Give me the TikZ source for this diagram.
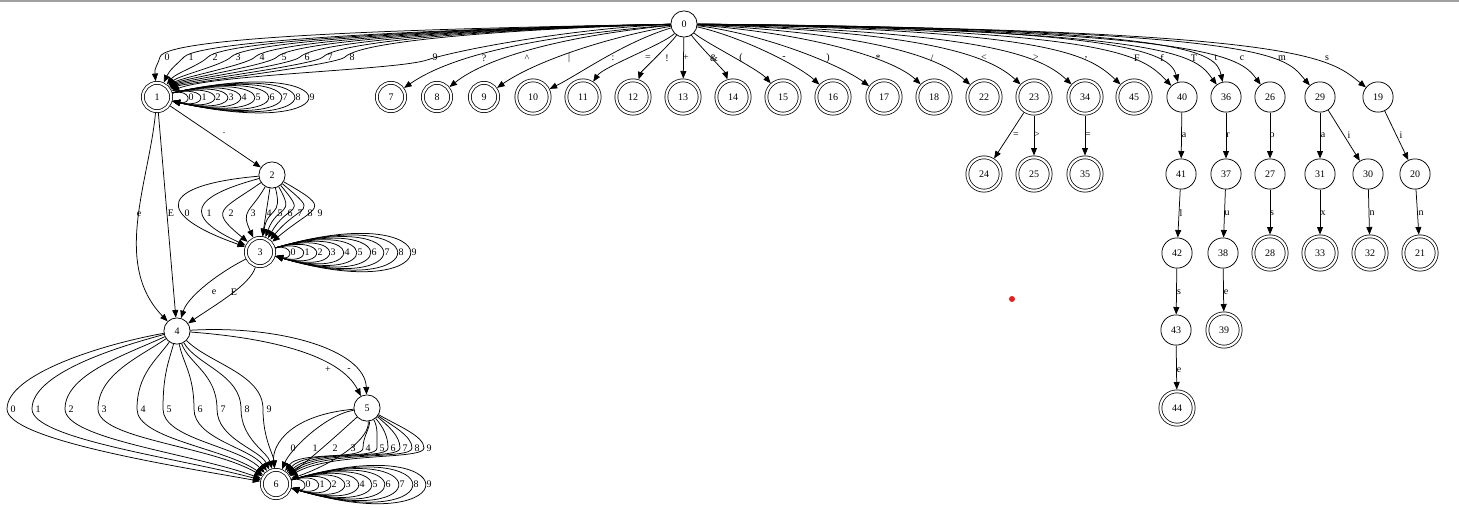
\documentclass[tikz,border=0pt]{standalone}
\usepackage{fontspec}
\setmainfont{Liberation Serif}
\usetikzlibrary{arrows.meta}
\definecolor{topline}{RGB}{160,160,160}
\definecolor{reddot}{RGB}{228,32,32}
\newcommand\nfsize{\fontsize{10}{11}\selectfont}
\tikzset{
  st/.style={circle, draw, line width=0.75pt, inner sep=0pt, font=\nfsize},
  sa/.style={st, minimum size=26.25pt},
  sb/.style={st, minimum size=30.25pt},
  da/.style={st, double, double distance=2.2pt, minimum size=28.3pt, outer sep=1.85pt},
  db/.style={st, double, double distance=2.2pt, minimum size=33.3pt, outer sep=1.85pt},
  edge/.style={draw, line width=0.75pt, -{Triangle[length=7.5pt,width=6pt]}},
  lbl/.style={inner sep=0pt, font=\nfsize},
}
\begin{document}
\begin{tikzpicture}[x=1pt,y=-1pt]
\useasboundingbox (0,0) rectangle (1459,507);
\fill[topline] (0,0) rectangle (1459,1.6);
\fill[reddot] (1012,299) circle (3);

% nodes
\node[sa] (n0) at (684,24) {0};
\node[da] (n1) at (157,97) {1};
\node[da] (n7) at (391,97) {7};
\node[da] (n8) at (437,97) {8};
\node[da] (n9) at (484,97) {9};
\node[db] (n10) at (533,97) {10};
\node[db] (n11) at (583,97) {11};
\node[db] (n12) at (633,97) {12};
\node[db] (n13) at (683,97) {13};
\node[db] (n14) at (733,97) {14};
\node[db] (n15) at (783,97) {15};
\node[db] (n16) at (833,97) {16};
\node[db] (n17) at (884,97) {17};
\node[db] (n18) at (934,97) {18};
\node[db] (n22) at (984,97) {22};
\node[db] (n23) at (1034,97) {23};
\node[db] (n34) at (1085,97) {34};
\node[db] (n45) at (1134,97) {45};
\node[sb] (n40) at (1182,97) {40};
\node[sb] (n36) at (1226,97) {36};
\node[sb] (n26) at (1270,97) {26};
\node[sb] (n29) at (1320,97) {29};
\node[sb] (n19) at (1378,97) {19};
\node[db] (n24) at (984,174) {24};
\node[db] (n25) at (1034,174) {25};
\node[db] (n35) at (1085,174) {35};
\node[sb] (n41) at (1181,174) {41};
\node[sb] (n37) at (1226,174) {37};
\node[sb] (n27) at (1270,174) {27};
\node[sb] (n31) at (1320,174) {31};
\node[sb] (n30) at (1368,174) {30};
\node[sb] (n20) at (1415,174) {20};
\node[sb] (n42) at (1177,253) {42};
\node[sb] (n38) at (1223,253) {38};
\node[db] (n28) at (1270,253) {28};
\node[db] (n33) at (1320,253) {33};
\node[db] (n32) at (1370,253) {32};
\node[db] (n21) at (1420,253) {21};
\node[sb] (n43) at (1176,330) {43};
\node[db] (n39) at (1224,330) {39};
\node[db] (n44) at (1177,408) {44};
\node[sa] (n2) at (272,175) {2};
\node[da] (n3) at (260,252) {3};
\node[sa] (n4) at (177,331) {4};
\node[sa] (n5) at (367,408) {5};
\node[da] (n6) at (276,484) {6};

% 0 -> 1
\draw[edge] (n0) .. controls +(-230,4) and +(6,-22) .. (160,57) .. controls +(-3,10) and +(-2.6,-29.9) .. (n1);
\draw[edge] (n0) .. controls +(-219,4) and +(18,-18) .. (184,57) .. controls +(-8,8) and +(12.7,-27.2) .. (n1);
\draw[edge] (n0) .. controls +(-208,4) and +(18,-18) .. (208,57) .. controls +(-8,8) and +(18.5,-23.6) .. (n1);
\draw[edge] (n0) .. controls +(-198,4) and +(18,-18) .. (231,57) .. controls +(-8,8) and +(21.2,-21.2) .. (n1);
\draw[edge] (n0) .. controls +(-187,4) and +(18,-18) .. (255,57) .. controls +(-8,8) and +(23,-19.3) .. (n1);
\draw[edge] (n0) .. controls +(-177,4) and +(18,-18) .. (277,57) .. controls +(-8,8) and +(24,-18) .. (n1);
\draw[edge] (n0) .. controls +(-166,4) and +(18,-18) .. (300,57) .. controls +(-8,8) and +(24.9,-16.8) .. (n1);
\draw[edge] (n0) .. controls +(-156,4) and +(18,-18) .. (323,57) .. controls +(-8,8) and +(25.7,-15.5) .. (n1);
\draw[edge] (n0) .. controls +(-146,4) and +(18,-18) .. (345,57) .. controls +(-8,8) and +(26.5,-14.1) .. (n1);
\draw[edge] (n0) .. controls +(-110,4) and +(30,-10) .. (427,60) .. controls +(-30,10) and +(55.6,-22.5) .. (n1);
\foreach \x [count=\i from 0] in {167,191,215,238,262,284,307,330,352,435}
  \node[lbl] (a\i) at (\x,57) {\i};

% 0 -> first row
\draw[edge] (n0) .. controls +(-143,12) and +(62,-43) .. (n7);
\draw[edge] (n0) .. controls +(-120,12) and +(50,-40) .. (n8);
\draw[edge] (n0) .. controls +(-80,14) and +(50,-35) .. (n9);
\draw[edge] (n0) .. controls +(-60,18) and +(45,-22) .. (n10);
\draw[edge] (n0) .. controls +(-20,20) and +(20,-30) .. (n11);
\draw[edge] (n0) .. controls +(-12,18) and +(8,-25) .. (n12);
\draw[edge] (n0) -- (n13);
\draw[edge] (n0) .. controls +(12,18) and +(-8,-25) .. (n14);
\draw[edge] (n0) .. controls +(20,18) and +(-25,-28) .. (n15);
\draw[edge] (n0) .. controls +(55,12) and +(-35,-32) .. (n16);
\draw[edge] (n0) .. controls +(80,10) and +(-45,-33) .. (n17);
\draw[edge] (n0) .. controls +(130,10) and +(-40,-38) .. (n18);
\draw[edge] (n0) .. controls +(190,10) and +(-45,-40) .. (n22);
\draw[edge] (n0) .. controls +(240,8) and +(-45,-42) .. (n23);
\draw[edge] (n0) .. controls +(300,8) and +(-45,-42) .. (n34);
\draw[edge] (n0) .. controls +(370,6) and +(-45,-42) .. (n45);
\draw[edge] (n0) .. controls +(430,6) and +(-40,-42) .. (n40);
\draw[edge] (n0) .. controls +(440,4) and +(-12,-45) .. (n40);
\draw[edge] (n0) .. controls +(500,6) and +(-30,-40) .. (n36);
\draw[edge] (n0) .. controls +(510,4) and +(-10,-45) .. (n36);
\draw[edge] (n0) .. controls +(530,6) and +(-30,-40) .. (n26);
\draw[edge] (n0) .. controls +(600,6) and +(-35,-40) .. (n29);
\draw[edge] (n0) .. controls +(620,6) and +(-50,-40) .. (n19);
\node[lbl] (b7) at (484,58) {?};
\node[lbl] (b8) at (527,58) {\textasciicircum};
\node[lbl] (b9) at (569,58) {\textbar};
\node[lbl] (b10) at (613,58) {:};
\node[lbl] (b11) at (648,58) {=};
\node[lbl] (b12) at (667,58) {!};
\node[lbl] (b13) at (686,58) {+};
\node[lbl] (b14) at (714,58) {\&};
\node[lbl] (b15) at (741,58) {(};
\node[lbl] (b16) at (784,58) {-};
\node[lbl] (b17) at (828,58) {)};
\node[lbl] (b18) at (878,58) {*};
\node[lbl] (b22) at (932,58) {/};
\node[lbl] (b23) at (984,58) {\textless};
\node[lbl] (b34) at (1036,58) {\textgreater};
\node[lbl] (b45) at (1086,58) {,};
\node[lbl] (bF) at (1137,58) {F};
\node[lbl] (bf) at (1162,58) {f};
\node[lbl] (bT) at (1194,58) {T};
\node[lbl] (bt) at (1216,58) {t};
\node[lbl] (b26) at (1242,58) {c};
\node[lbl] (b29) at (1282,58) {m};
\node[lbl] (b19) at (1327,58) {s};

% right chains
\draw[edge] (n23) -- (n24);
\draw[edge] (n23) -- (n25);
\draw[edge] (n34) -- (n35);
\draw[edge] (n40) -- (n41);
\draw[edge] (n36) -- (n37);
\draw[edge] (n26) -- (n27);
\draw[edge] (n29) -- (n31);
\draw[edge] (n29) -- (n30);
\draw[edge] (n19) -- (n20);
\draw[edge] (n41) -- (n42);
\draw[edge] (n37) -- (n38);
\draw[edge] (n27) -- (n28);
\draw[edge] (n31) -- (n33);
\draw[edge] (n30) -- (n32);
\draw[edge] (n20) -- (n21);
\draw[edge] (n42) -- (n43);
\draw[edge] (n38) -- (n39);
\draw[edge] (n43) -- (n44);
\node[lbl] (r24) at (1016,135) {=};
\node[lbl] (r25) at (1037,135) {\textgreater};
\node[lbl] (r35) at (1088,135) {=};
\node[lbl] (r41) at (1184,135) {a};
\node[lbl] (r37) at (1228,135) {r};
\node[lbl] (r27) at (1272,135) {o};
\node[lbl] (r31) at (1323,135) {a};
\node[lbl] (r30) at (1349,135) {i};
\node[lbl] (r20) at (1401,135) {i};
\node[lbl] (r42) at (1181,213) {l};
\node[lbl] (r38) at (1227,213) {u};
\node[lbl] (r28) at (1272,213) {s};
\node[lbl] (r33) at (1323,213) {x};
\node[lbl] (r32) at (1372,213) {n};
\node[lbl] (r21) at (1421,213) {n};
\node[lbl] (r43) at (1179,292) {s};
\node[lbl] (r39) at (1226,292) {e};
\node[lbl] (r44) at (1179,370) {e};

% loops on 1
\foreach \X/\h in {191.9/8,209.2/12.1,227.9/16.2,245.2/20.3,262.5/24.4,281.2/28.5,299.9/32.6,317.2/36.7,334.5/40.8,353.2/45}
  \draw[edge] (n1.15) .. controls (\X,{97-\h}) and (\X,{97+\h}) .. (n1.-15);
\foreach \x [count=\i from 0] in {191,204,218,231,244,258,272,285,298,312}
  \node[lbl] (c\i) at (\x,97) {\i};

% 1 -> 2, 1 -> 4
\draw[edge] (n1) -- (n2);
\node[lbl] (p12) at (224,133) {.};
\draw[edge] (n1) .. controls (149,182) and (112,264) .. (n4);
\draw[edge] (n1) -- (n4);
\node[lbl] (p14e) at (139,214) {e};
\node[lbl] (p14E) at (171,213) {E};

% 2 -> 3
\draw[edge] (n2) .. controls (159,185) and (152,214) .. (n3);
\draw[edge] (n2) .. controls (191,197) and (182,216) .. (n3);
\draw[edge] (n2) .. controls (220,211) and (209,210) .. (n3);
\draw[edge] (n2) .. controls (250,213) and (240.5,210) .. (n3);
\draw[edge] (n2) -- (n3);
\draw[edge] (n2) .. controls (283,217) and (268,207) .. (n3);
\draw[edge] (n2) .. controls (296,217) and (277.5,204) .. (n3);
\draw[edge] (n2) .. controls (307.7,217.5) and (289,201.7) .. (n3);
\draw[edge] (n2) .. controls (320.6,215.8) and (302.4,201.4) .. (n3);
\draw[edge] (n2) .. controls (333.9,210.8) and (316.7,204.4) .. (n3);
\foreach \x [count=\i from 0] in {187,209,231,253,269,280,290,300,310,320}
  \node[lbl] (d\i) at (\x,213) {\i};

% loops on 3
\foreach \X/\h in {293.3/8,312/13.5,329.3/19,346.7/24.5,365.3/30,382.7/35.5,401.3/41,418.7/46.5,437.3/52,454.7/57.5}
  \draw[edge] (n3.15) .. controls (\X,{252-\h}) and (\X,{252+\h}) .. (n3.-15);
\foreach \x [count=\i from 0] in {293,307,320,333,347,360,374,387,401,414}
  \node[lbl] (g\i) at (\x,252) {\i};

% 3 -> 4
\draw[edge] (n3) .. controls (220,272) and (188,296) .. (n4);
\draw[edge] (n3) .. controls (250,285) and (215,305) .. (n4);
\node[lbl] (p34e) at (214,292) {e};
\node[lbl] (p34E) at (234,292) {E};

% 4 -> 6
\foreach \mx/\ax/\ay/\bx/\by in {7/-73.9/13/-108.3/-19.1, 32/-63.8/17.1/-96.6/-25.9, 65/-49.8/23.2/-84.6/-30.8, 98/-36/25.2/-66.7/-38.5, 137/-20.1/28.7/-51.6/-36.1, 163/-8.3/30.9/-38.2/-38.2, 194/5.6/31.5/-25.2/-36, 217/12/32.9/-16.1/-34.4, 241/20/34.6/-8.5/-31.9, 263/32.5/32.5/-2.6/-29.9}
  \draw[edge] (n4) .. controls +(\ax,\ay) and +(0,-35) .. (\mx,409) .. controls +(0,30) and +(\bx,\by) .. (n6);
\foreach \x [count=\i from 0] in {13,38,71,104,143,169,200,223,247,269}
  \node[lbl] (h\i) at (\x,409) {\i};

% 4 -> 5
\draw[edge] (n4) .. controls (270,338) and (340,355) .. (n5);
\draw[edge] (n4) .. controls (280,325) and (365,350) .. (n5);
\node[lbl] (p45p) at (328,370) {+};
\node[lbl] (p45m) at (349,370) {-};

% 5 -> 6
\draw[edge] (n5) .. controls (290,415) and (272,445) .. (n6);
\draw[edge] (n5) .. controls (325,415) and (290,450) .. (n6);
\draw[edge] (n5) .. controls (345,428) and (312,458) .. (n6);
\draw[edge] (n5) .. controls (370,438) and (338,462) .. (n6);
\foreach \mx/\ax/\ay/\bx/\by in {363/3.5/19.7/22.9/-32.8, 377/11/19.1/30.8/-34.2, 388/16.1/19.2/38.6/-34.8, 400/21.4/18/44.1/-34.5, 412/26.2/18.4/49.7/-33.6, 424/31.2/18/55.4/-32}
  \draw[edge] (n5) .. controls +(\ax,\ay) and +(0,-12) .. (\mx,448) .. controls +(0,12) and +(\bx,\by) .. (n6);
\foreach \x [count=\i from 0] in {293,315,335,353,368,382,393,405,417,429}
  \node[lbl] (k\i) at (\x,448) {\i};

% loops on 6
\foreach \X/\h in {308.1/8,326.8/13.5,342.8/19,361.5/24.5,380.1/30,397.5/35.5,414.8/41,433.5/46.5,452.1/52,469.5/57.5}
  \draw[edge] (n6.15) .. controls (\X,{484-\h}) and (\X,{484+\h}) .. (n6.-15);
\foreach \x [count=\i from 0] in {308,322,334,348,362,375,388,402,416,429}
  \node[lbl] (m\i) at (\x,484) {\i};
\end{tikzpicture}
\end{document}
